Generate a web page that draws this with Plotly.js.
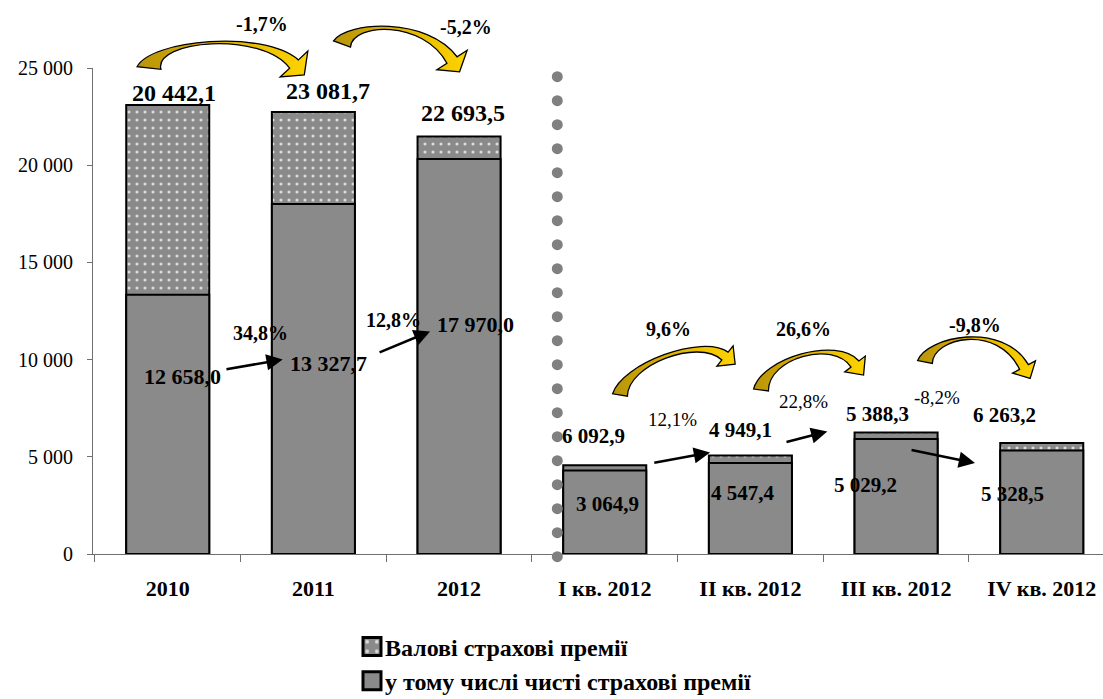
<!DOCTYPE html>
<html>
<head>
<meta charset="utf-8">
<script src="https://cdn.plot.ly/plotly-3.0.1.min.js"></script>
<style>
html,body{margin:0;padding:0;background:#fff;}
#chart{width:1103px;height:699px;}
</style>
</head>
<body>
<div id="chart"></div>
<script>
// ---------- DATA ----------
const categories = ['2010', '2011', '2012', 'I кв. 2012', 'II кв. 2012', 'III кв. 2012', 'IV кв. 2012'];
const grossPremiums = [23100, 22740, 21480, 4560, 5070, 6250, 5710];
const netPremiums = [13340, 18000, 20320, 4300, 4680, 5920, 5330];
const grossLabels = ['20 442,1', '23 081,7', '22 693,5', '6 092,9', '4 949,1', '5 388,3', '6 263,2'];
const netLabels = ['12 658,0', '13 327,7', '17 970,0', '3 064,9', '4 547,4', '5 029,2', '5 328,5'];
const grossGrowth = ['-1,7%', '-5,2%', '9,6%', '26,6%', '-9,8%'];
const netGrowth = ['34,8%', '12,8%', '12,1%', '22,8%', '-8,2%'];
const seriesNames = ['Валові страхові премії', 'у тому числі чисті страхові премії'];

// ---------- LABEL POSITIONS (category index, value) ----------
const grossLabelPos = [[0.043, 23714], [1.097, 23796], [2.027, 22685], [2.920, 6049], [3.935, 6394], [4.874, 7217], [5.741, 7166]];
const grossLabelSize = [24, 24, 24, 21, 21, 21, 21];
const netLabelPos = [[0.098, 9136], [1.107, 9825], [2.116, 11795], [3.019, 2587], [3.949, 3138], [4.790, 3529], [5.796, 3086]];
const netLabelSize = [22, 22, 22, 21, 21, 21, 21];
// growth labels: [category index, value, yref] ; the first two sit above the plot area (paper y)
const grossGrowthPos = [[0.647, 1.0905, 'paper'], [2.048, 1.0844, 'paper'], [3.441, 11574, 'y'], [4.365, 11574, 'y'], [5.540, 11795, 'y']];
const netGrowthPos = [[0.634, 11368], [1.547, 12052], [3.462, 6908], [4.361, 7850], [5.281, 8025]];
const netGrowthBold = [true, true, false, false, false];
// straight arrows: tip (category index, value), tail offset in px
const straightArrows = [
  [0.789, 10005, -57.7, 10], [1.801, 11451, -52, 21.6], [3.723, 5226, -57.3, 10.6],
  [4.528, 6306, -42.3, 11], [5.542, 4681, -65, -13.3]
];

const FONT = 'Liberation Serif';
const ML = 93, MT = 68, MB = 145, W = 1103, H = 699;
const PW = W - ML, PH = H - MT - MB;
const xMin = -0.513, xMax = xMin + PW / 145.67;

// ---------- TRACES ----------
const traces = [
  {
    type: 'bar', name: '<b>' + seriesNames[0] + '</b>', x: categories, y: grossPremiums, width: 0.57,
    marker: {
      color: '#8a8a8a', line: {color: '#000', width: 2},
      pattern: {shape: '.', bgcolor: '#8a8a8a', fgcolor: '#dcdcdc', size: 8, solidity: 0.12}
    },
    hoverinfo: 'skip'
  },
  {
    type: 'bar', name: '<b>' + seriesNames[1] + '</b>', x: categories, y: netPremiums, width: 0.57,
    marker: {color: '#8a8a8a', line: {color: '#000', width: 2}},
    hoverinfo: 'skip'
  }
];

// ---------- ANNOTATIONS ----------
const ann = [];
function txt(x, y, yref, text, size, bold) {
  ann.push({x: x, y: y, xref: 'x', yref: yref, xanchor: 'center', yanchor: 'middle',
    text: bold ? '<b>' + text + '</b>' : text, showarrow: false,
    font: {family: FONT, size: size, color: '#000'}});
}
grossLabels.forEach((t, i) => txt(grossLabelPos[i][0], grossLabelPos[i][1], 'y', t, grossLabelSize[i], true));
netLabels.forEach((t, i) => txt(netLabelPos[i][0], netLabelPos[i][1], 'y', t, netLabelSize[i], true));
grossGrowth.forEach((t, i) => txt(grossGrowthPos[i][0], grossGrowthPos[i][1], grossGrowthPos[i][2], t, 20, true));
netGrowth.forEach((t, i) => txt(netGrowthPos[i][0], netGrowthPos[i][1], 'y', t, netGrowthBold[i] ? 20 : 19, netGrowthBold[i]));
straightArrows.forEach(a => ann.push({
  x: a[0], y: a[1], xref: 'x', yref: 'y', ax: a[2], ay: a[3], text: '', showarrow: true,
  arrowhead: 2, arrowsize: 1.3, arrowwidth: 2.5, arrowcolor: '#000', standoff: 0
}));

// ---------- DECORATIVE CURVED ARROWS (pixel geometry -> paper) ----------
function P(p) { return ((p[0] - ML) / PW).toFixed(5) + ',' + ((H - MB - p[1]) / PH).toFixed(5); }
function norm(v) { const l = Math.hypot(v[0], v[1]); return [v[0] / l, v[1] / l]; }
function add(a, n, s) { return [a[0] + n[0] * s, a[1] + n[1] * s]; }
function curvedArrow(T, C1, C2, E, wT, wC, wH, wh, len) {
  const d0 = norm([C1[0] - T[0], C1[1] - T[1]]);
  const d1 = norm([E[0] - C2[0], E[1] - C2[1]]);
  const n0 = [-d0[1], d0[0]], n1 = [-d1[1], d1[0]];
  const a0 = add(T, n0, wT), a1 = add(C1, n0, wC), a2 = add(C2, n1, wC), a3 = add(E, n1, wH);
  const b0 = add(T, n0, -wT), b1 = add(C1, n0, -wC), b2 = add(C2, n1, -wC), b3 = add(E, n1, -wH);
  const bA = add(E, n1, wh), bB = add(E, n1, -wh), tip = add(E, d1, len);
  return 'M' + P(a0) + ' C' + P(a1) + ' ' + P(a2) + ' ' + P(a3) + ' L' + P(bA) + ' L' + P(tip) +
    ' L' + P(bB) + ' L' + P(b3) + ' C' + P(b2) + ' ' + P(b1) + ' ' + P(b0) + ' Z';
}
const curved = [
  [[149, 68], [152, 40], [262, 30], [294, 64], 12, 1.3, 6, 19, 15],
  [[342, 44], [350, 22], [425, 18], [452, 60], 9, 2.5, 6, 18, 14],
  [[620, 395], [625, 364], [700, 336], [725, 356], 7.5, 3, 5, 13, 13],
  [[761, 390], [765, 358], [835, 338], [855, 364], 7.5, 3, 5, 13, 14],
  [[925, 362], [930, 337], [1000, 322], [1024, 367], 7.5, 3, 5, 13, 13]
];
const shapes = [];
// dotted separator
shapes.push({type: 'line', xref: 'paper', yref: 'paper',
  x0: (557.3 - ML) / PW, x1: (557.3 - ML) / PW, y0: (H - MB - 76.7) / PH, y1: (H - MB - 558.7) / PH,
  line: {color: '#808080', width: 11, dash: '0px,24px'}, layer: 'above'});
curved.forEach(c => shapes.push({type: 'path', xref: 'paper', yref: 'paper',
  path: curvedArrow.apply(null, c), fillcolor: '#e8bc00', line: {color: '#000', width: 1.3}, layer: 'above'}));

// ---------- LAYOUT ----------
const layout = {
  width: W, height: H,
  margin: {l: ML, r: 0, t: MT, b: MB, autoexpand: false},
  paper_bgcolor: '#fff', plot_bgcolor: '#fff',
  barmode: 'overlay',
  separators: ', ',
  font: {family: FONT, color: '#000'},
  showlegend: true,
  legend: {
    orientation: 'v', x: 0.2495, xanchor: 'left', y: -0.145, yanchor: 'top',
    font: {family: FONT, size: 24, color: '#000'},
    traceorder: 'normal', itemwidth: 30, bgcolor: 'rgba(0,0,0,0)'
  },
  xaxis: {
    type: 'category', range: [xMin, xMax], showgrid: false, zeroline: false,
    showline: true, linecolor: '#707070', linewidth: 1,
    ticks: 'outside', ticklen: 7, tickcolor: '#707070', tickson: 'boundaries',
    tickfont: {family: FONT, size: 22, color: '#000'},
    tickvals: categories, ticktext: categories.map(c => '<b>' + c + '</b>'),
    ticklabelstandoff: 15, fixedrange: true
  },
  yaxis: {
    range: [0, 25000], dtick: 5000, tickformat: ',d', showgrid: false, zeroline: false,
    showline: true, linecolor: '#707070', linewidth: 1,
    ticks: 'outside', ticklen: 5, tickcolor: '#707070',
    tickfont: {family: FONT, size: 20, color: '#000'},
    ticklabelstandoff: 10, fixedrange: true
  },
  annotations: ann,
  shapes: shapes
};

Plotly.newPlot('chart', traces, layout, {displayModeBar: false, staticPlot: true}).then(gd => {
  const svg = gd.querySelector('svg.main-svg');
  const NS = 'http://www.w3.org/2000/svg';
  let defs = svg.querySelector('defs');
  if (!defs) { defs = document.createElementNS(NS, 'defs'); svg.insertBefore(defs, svg.firstChild); }
  const g = document.createElementNS(NS, 'linearGradient');
  g.setAttribute('id', 'goldgrad');
  g.setAttribute('x1', '0'); g.setAttribute('y1', '0'); g.setAttribute('x2', '1'); g.setAttribute('y2', '0');
  [['0', '#b8940a'], ['0.45', '#dcb000'], ['1', '#ffd400']].forEach(s => {
    const st = document.createElementNS(NS, 'stop');
    st.setAttribute('offset', s[0]); st.setAttribute('stop-color', s[1]);
    g.appendChild(st);
  });
  defs.appendChild(g);
  gd.querySelectorAll('.shapelayer path').forEach(p => {
    p.style.strokeLinecap = 'round';
    const f = p.style.fill || '';
    if (f.indexOf('232, 188, 0') >= 0) p.style.fill = 'url(#goldgrad)';
  });
  // larger legend swatches, close to the text as in the source chart
  gd.querySelectorAll('.legend .legendpoints path').forEach(p => {
    p.setAttribute('transform', 'translate(27,0) scale(1.5)');
  });
});
</script>
</body>
</html>
